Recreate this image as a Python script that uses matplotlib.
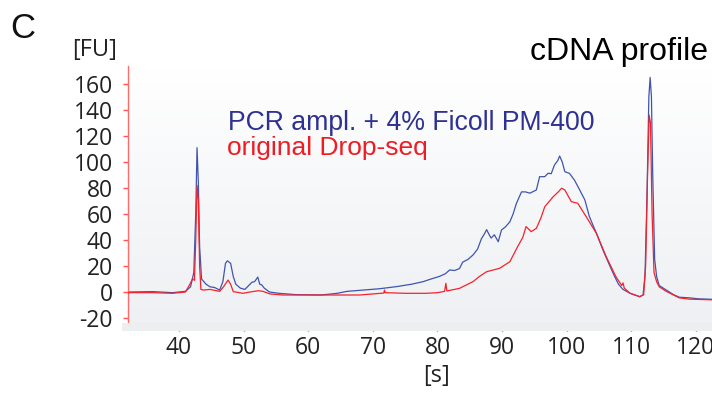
import numpy as np
import matplotlib
matplotlib.use("Agg")
import matplotlib.pyplot as plt
from matplotlib.patches import Rectangle
from matplotlib.colors import LinearSegmentedColormap

# ---- data ----
blue_x = [32.1, 36, 39, 41, 41.8, 42.3, 42.6, 42.8, 43.0, 43.2, 43.5, 44.2, 44.8, 45.5, 46.3, 46.8,
          47.2, 47.5, 48.0, 48.4, 48.8, 49.5, 50.2, 50.8, 51.3, 51.7, 52.0, 52.2, 52.5, 52.8, 53.2,
          54, 55.5, 58, 62, 64.5, 66, 68.5, 71, 73.6, 76, 77.8, 79, 80.3, 81.2, 81.9, 82.6, 83.4,
          83.9, 84.7, 85.5, 86.2, 86.8, 87.3, 87.6, 88.0, 88.3, 88.8, 89.4, 89.9, 90.5, 91.2, 91.7,
          92.2, 93.0, 93.6, 94.3, 95.3, 95.8, 96.6, 97.1, 97.6, 98.1, 98.6, 98.9, 99.3, 99.7, 100.4,
          101.2, 102.0, 102.8, 103.5, 104.6, 105.6, 106.6, 107.4, 108.0, 108.7, 109.8, 111.3, 111.8,
          112.1, 112.4, 112.7, 112.9, 113.1, 113.3, 113.6, 113.9, 114.3, 115.4, 116.5, 117.4, 119,
          120.5, 122.5]
blue_y = [0, 0.3, -0.5, 0.5, 4, 15, 60, 111, 85, 35, 10, 6, 4, 3.5, 1.5, 8,
          22, 24, 22, 12, 6, 3, 2, 5, 7.5, 8, 10, 11.5, 6, 5.5, 3,
          0, -1, -2, -2.3, -1, 0.5, 1.5, 2.5, 4.1, 6, 8, 10, 12, 14, 17, 16.5, 18,
          23, 25, 28.5, 33, 41, 45, 48, 44, 41.5, 44, 38.7, 47.7, 50, 54, 60,
          68, 77, 77, 76, 78.5, 88.7, 88.7, 91.3, 91, 97.7, 101, 104.6, 100, 92.5, 91.3,
          86, 78.5, 70.8, 58, 45, 32.3, 20.8, 12, 6, 2, -1, -3.6, -2.3,
          12, 70, 150, 165, 150, 90, 25, 12, 5, 1.5, -2, -4, -4.5,
          -5.3, -5.6]

red_x = [32.1, 36, 39, 41, 41.7, 42.1, 42.4, 42.6, 42.8, 43.0, 43.2, 43.4, 43.8, 44.8, 46.3, 46.9,
         47.6, 48.0, 48.4, 49.9, 51, 52.3, 53, 54.1, 56, 64, 68, 71.7, 71.8, 71.9, 75, 78.3, 80,
         81.1, 81.3, 81.45, 83.4, 85.5, 86.5, 87.6, 89.6, 91.2, 92.4, 93.2, 93.7, 94.5, 95.3, 96.0,
         96.6, 97.9, 98.7, 99.2, 99.7, 100.7, 101.7, 103.0, 104.6, 106.1, 107.6, 108.5, 108.7,
         108.9, 109.8, 111.3, 111.9, 112.2, 112.5, 112.75, 112.95, 113.2, 113.5, 113.9, 114.3,
         115.4, 117.4, 119, 122.5]
red_y = [-0.5, -0.5, -1, 0, 6, 10, 9, 40, 82, 70, 20, 2, 1.5, 2, 0.5, 4,
         9.2, 6, 0.3, -1, 0, 1, 0.5, -1.5, -2.3, -2.3, -2.3, -0.8, 1.5, -0.5, -1, -1, -0.5,
         0.5, 6.7, 0.8, 2.8, 8, 12, 15.6, 18.2, 23.3, 34.9, 42, 50.3, 46.4, 49, 57,
         65.6, 73.3, 77, 79.8, 78.5, 69.5, 68.2, 58, 45, 27.2, 11.8, 5, 7,
         3, -1, -3.6, -2, 20, 90, 136, 130, 60, 15, 8, 4,
         0.5, -4.5, -5.5, -6]

x_ticks = [40, 50, 60, 70, 80, 90, 100, 110, 120]
y_ticks = [-20, 0, 20, 40, 60, 80, 100, 120, 140, 160]

W, H = 712, 394
fig = plt.figure(figsize=(W / 100, H / 100), dpi=100)
fig.patch.set_facecolor("white")

# gray strip under the x-axis
fig.patches.append(Rectangle((122 / W, 1 - 331 / H), (W - 122) / W, 8 / H,
                             transform=fig.transFigure, facecolor="#eceef0",
                             edgecolor="none", zorder=0))

ax = fig.add_axes([128 / W, 1 - 324 / H, (W - 128) / W, (324 - 66) / H])
ax.set_xlim(32.12, 122.47)
ax.set_ylim(-24.6, 173.8)

# gradient background
grad = np.linspace(0, 1, 256).reshape(-1, 1)
cmap = LinearSegmentedColormap.from_list("bg", ["#ffffff", "#eef0f3"])
ax.imshow(grad, aspect="auto", cmap=cmap, extent=[0, 1, 0, 1], transform=ax.transAxes,
          zorder=0, origin="upper")

ax.plot(blue_x, blue_y, color="#3f55ad", lw=0.9, zorder=2)
ax.plot(red_x, red_y, color="#f5222d", lw=0.9, zorder=3)

for s in ["top", "right"]:
    ax.spines[s].set_visible(False)
ax.spines["left"].set_color("#ff6b6b")
ax.spines["left"].set_linewidth(1.0)
ax.spines["bottom"].set_color("#555555")
ax.spines["bottom"].set_linewidth(1.0)

ax.set_xticks(x_ticks)
ax.set_yticks(y_ticks)
ax.set_xticklabels([str(v) for v in x_ticks])
ax.set_yticklabels([str(v) for v in y_ticks])
ax.tick_params(axis="y", colors="#ff5555", length=3.6, width=1.0, pad=7.2,
               labelcolor="#222222", labelsize=16.5)
ax.tick_params(axis="x", colors="#555555", length=5, width=1.0, pad=3.5,
               labelcolor="#222222", labelsize=16.5)
for lab in ax.get_xticklabels() + ax.get_yticklabels():
    lab.set_fontfamily("Open Sans")

fig.text(10 / W, 1 - 38 / H, "C", fontsize=25, family="Liberation Sans",
         ha="left", va="baseline", color="#111111")
fig.text(95 / W, 1 - 50 / H, "[FU]", fontsize=17, family="Open Sans",
         ha="center", va="center", color="#222222")
fig.text(436 / W, 1 - 376 / H, "[s]", fontsize=17, family="Open Sans",
         ha="center", va="center", color="#222222")
fig.text(708 / W, 1 - 60 / H, "cDNA profile", fontsize=23, family="Liberation Sans",
         ha="right", va="baseline", color="#000000")
fig.text(228 / W, 1 - 130 / H, "PCR ampl. + 4% Ficoll PM-400", fontsize=19.2,
         family="Liberation Sans", ha="left", va="baseline", color="#2e3192")
fig.text(227 / W, 1 - 155 / H, "original Drop-seq", fontsize=19,
         family="Liberation Sans", ha="left", va="baseline", color="#ee1c25")

fig.savefig("out.png", dpi=100)
